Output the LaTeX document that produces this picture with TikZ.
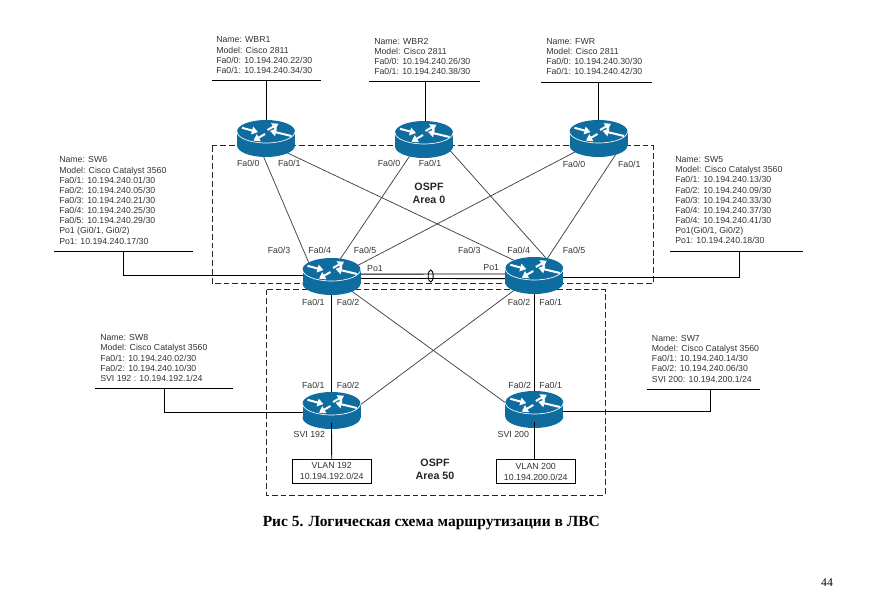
\documentclass[tikz,border=0pt]{standalone}
\usepackage{fontspec}
\setmainfont{Liberation Sans}
\newfontfamily\capfont{Liberation Serif}
\usetikzlibrary{positioning,arrows.meta}
\definecolor{routerblue}{HTML}{0F6C9E}
\definecolor{txtgray}{HTML}{333333}

\begin{document}
\begin{tikzpicture}[x=0.75pt,y=-0.75pt]
	\tikzstyle{routerbox} = [rectangle, minimum width=33pt, minimum height=18pt, inner sep=0pt]
	\tikzstyle{infobox} = [anchor=west, align=left, inner sep=0pt, text=txtgray, font=\fontsize{6.55}{7.6}\selectfont]
	\tikzstyle{portlbl} = [inner sep=0pt, text=txtgray, font=\fontsize{6.6}{7.6}\selectfont]
	\tikzstyle{arealbl} = [align=center, inner sep=0pt, text=black!85, font=\fontsize{8}{9.6}\selectfont\bfseries]
	\tikzstyle{vlanbox} = [rectangle, draw=black, line width=0.6pt, align=center, inner sep=0pt, text=txtgray, minimum width=59pt, minimum height=18pt, font=\fontsize{6.6}{8.2}\selectfont]
	\tikzstyle{link} = [line width=0.55pt, black!75]
	\tikzstyle{wire} = [line width=0.65pt, black]
	\tikzstyle{areabox} = [line width=0.6pt, black!85, dash pattern=on 4.4pt off 2.2pt]
	\tikzset{routerpic/.pic={
		\fill[routerblue] (0,7) ellipse [x radius=29, y radius=11.5];
		\fill[routerblue] (-29,-7) rectangle (29,7);
		\fill[routerblue] (0,-7) ellipse [x radius=29, y radius=11.5];
		\draw[white, line width=0.5pt] (-29,-7) arc [start angle=180, end angle=0, x radius=29, y radius=11.5];
		\foreach \xa/\ya/\xb/\yb in {-24/-10.7/-8/-6.4, 1.5/-8.5/12.5/-14.8, 25.5/-2.5/4/-7.6, -1/-4.5/-12.5/2.2}
			\draw[white, line width=1.5pt, -{Triangle[length=4.6pt,width=5.8pt]}] (\xa,\ya) -- (\xb,\yb);
	}}
	\useasboundingbox (0,0) rectangle (878,592);

	\node (wbr1) at (266,138.5) [routerbox]{};
	\node (wbr2) at (424,139.5) [routerbox]{};
	\node (fwr) at (598.5,138.5) [routerbox]{};
	\node (sw6) at (331.5,276.5) [routerbox]{};
	\node (sw5) at (534.3,275.5) [routerbox]{};
	\node (sw8) at (331.5,410.5) [routerbox]{};
	\node (sw7) at (534.3,409.5) [routerbox]{};

	%Areas
	\draw[areabox] (212,145.7) rectangle (653,283.7);
	\draw[areabox] (266,289.5) rectangle (605,495);
	\node (area0) at (429,193.6) [arealbl]{OSPF\\Area 0};
	\node (area50) at (435,469.6) [arealbl]{OSPF\\Area 50};

	%Info
	\node (infowbr1) at (216,55.2) [infobox]{Name: WBR1\\Model: Cisco 2811\\Fa0/0: 10.194.240.22/30\\Fa0/1: 10.194.240.34/30};
	\node (infowbr2) at (374,56.4) [infobox]{Name: WBR2\\Model: Cisco 2811\\Fa0/0: 10.194.240.26/30\\Fa0/1: 10.194.240.38/30};
	\node (infofwr) at (546,56.4) [infobox]{Name: FWR\\Model: Cisco 2811\\Fa0/0: 10.194.240.30/30\\Fa0/1: 10.194.240.42/30};
	\node (infosw6) at (59,200.5) [infobox]{Name: SW6\\Model: Cisco Catalyst 3560\\Fa0/1: 10.194.240.01/30\\Fa0/2: 10.194.240.05/30\\Fa0/3: 10.194.240.21/30\\Fa0/4: 10.194.240.25/30\\Fa0/5: 10.194.240.29/30\\Po1 (Gi0/1, Gi0/2)\\Po1: 10.194.240.17/30};
	\node (infosw5) at (675,200.2) [infobox]{Name: SW5\\Model: Cisco Catalyst 3560\\Fa0/1: 10.194.240.13/30\\Fa0/2: 10.194.240.09/30\\Fa0/3: 10.194.240.33/30\\Fa0/4: 10.194.240.37/30\\Fa0/4: 10.194.240.41/30\\Po1(Gi0/1, Gi0/2)\\Po1: 10.194.240.18/30};
	\node (infosw8) at (100,358) [infobox]{Name: SW8\\Model: Cisco Catalyst 3560\\Fa0/1: 10.194.240.02/30\\Fa0/2: 10.194.240.10/30\\SVI 192 : 10.194.192.1/24};
	\node (infosw7) at (651.7,358.8) [infobox]{Name: SW7\\Model: Cisco Catalyst 3560\\Fa0/1: 10.194.240.14/30\\Fa0/2: 10.194.240.06/30\\SVI 200: 10.194.200.1/24};

	%Rules under the info
	\coordinate (tickwbr1) at (266,80.3);
	\coordinate (tickwbr2) at (425.7,81.7);
	\coordinate (tickfwr) at (598.3,82);
	\coordinate (ticksw6) at (123.3,251);
	\coordinate (ticksw5) at (739.3,251);
	\coordinate (ticksw8) at (164,388);
	\coordinate (ticksw7) at (710,389);
	\draw[wire] (212,80.3) -- (321,80.3);
	\draw[wire] (369,81.7) -- (480,81.7);
	\draw[wire] (541,82) -- (652,82);
	\draw[wire] (54,251) -- (192.7,251);
	\draw[wire] (670,251) -- (803,251);
	\draw[wire] (95,388) -- (233,388);
	\draw[wire] (647,389) -- (760,389);

	%Arrows
	\draw[wire] (tickwbr1) -- (wbr1.north);
	\draw[wire] (tickwbr2) -- (tickwbr2 |- wbr2.north);
	\draw[wire] (tickfwr) -- (tickfwr |- fwr.north);
	\draw[wire] (ticksw6) |- (sw6.176);
	\draw[wire] (ticksw5) |- (sw5.-6);
	\draw[wire] (ticksw8) |- (sw8.185);
	\draw[wire] (ticksw7) |- (sw7.-6);
	%links
	\draw[link] (wbr1.-112) -- (sw6.151);
	\draw[link] (wbr1.-36) -- (sw5.139);
	\draw[link] (wbr2.-133) -- (sw6.67);
	\draw[link] (wbr2.-17) -- (sw5.37);
	\draw[link] (fwr.-150) -- (sw6.22.5);
	\draw[link] (fwr.-32) -- (sw5.51);
	\draw[link] (sw6.-36.4) -- (sw7.175);
	\draw[link] (sw5.-144) -- (sw8.2.3);
	\draw[wire] (sw6.south) -- (sw8.north);
	\draw[wire] (sw5.south) -- (sw7.north);
	%port channel
	\draw[wire] (sw6.6.5) -- (sw5.176);
	\draw[wire] (sw6.-5.2) -- (sw5.188);
	\draw[wire] (430.7,276) ellipse [x radius=2.5, y radius=6];

	%Routers
	\pic at (wbr1) {routerpic};
	\pic at (wbr2) {routerpic};
	\pic at (fwr) {routerpic};
	\pic at (sw6) {routerpic};
	\pic at (sw5) {routerpic};
	\pic at (sw8) {routerpic};
	\pic at (sw7) {routerpic};

	%VLAN
	\node (vlan192) at (331.7,471.3) [vlanbox]{VLAN 192\\10.194.192.0/24};
	\node (vlan200) at (535.8,471.6) [vlanbox]{VLAN 200\\10.194.200.0/24};
	\draw[wire] (sw8.south) -- (vlan192.north);
	\draw[wire] (vlan200.north -| sw7.south) -- (sw7.south);

	%Ports
	\node (p1) at (248.3,163.3) [portlbl]{Fa0/0};
	\node (p2) at (289.3,163.3) [portlbl]{Fa0/1};
	\node (p3) at (389,163.3) [portlbl]{Fa0/0};
	\node (p4) at (430,163.3) [portlbl]{Fa0/1};
	\node (p5) at (574,164.3) [portlbl]{Fa0/0};
	\node (p6) at (629.3,164.3) [portlbl]{Fa0/1};
	\node (p7) at (279,250.7) [portlbl]{Fa0/3};
	\node (p8) at (319.7,250.7) [portlbl]{Fa0/4};
	\node (p9) at (365,250.7) [portlbl]{Fa0/5};
	\node (p10) at (469.3,250.7) [portlbl]{Fa0/3};
	\node (p11) at (518.7,250.7) [portlbl]{Fa0/4};
	\node (p12) at (574,250.7) [portlbl]{Fa0/5};
	\node (p13) at (375,268.3) [portlbl]{Po1};
	\node (p14) at (491.3,267.7) [portlbl]{Po1};
	\node (p15) at (313.3,302.7) [portlbl]{Fa0/1};
	\node (p16) at (348,302.7) [portlbl]{Fa0/2};
	\node (p17) at (519,302.7) [portlbl]{Fa0/2};
	\node (p18) at (550.7,302.7) [portlbl]{Fa0/1};
	\node (p19) at (313.3,385.3) [portlbl]{Fa0/1};
	\node (p20) at (348,385.3) [portlbl]{Fa0/2};
	\node (p21) at (519.7,385.3) [portlbl]{Fa0/2};
	\node (p22) at (550.7,385.3) [portlbl]{Fa0/1};
	\node (p23) at (309.3,434.3) [portlbl]{SVI 192};
	\node (p24) at (513.3,434.7) [portlbl]{SVI 200};

	\node (caption) at (431.3,523) [inner sep=0pt, font=\capfont\fontsize{11.6}{13}\selectfont\bfseries]{Рис 5. Логическая схема маршрутизации в ЛВС};
	\node (pagenum) at (827,583) [inner sep=0pt, font=\capfont\fontsize{8.8}{10}\selectfont]{44};
\end{tikzpicture}
\end{document}
